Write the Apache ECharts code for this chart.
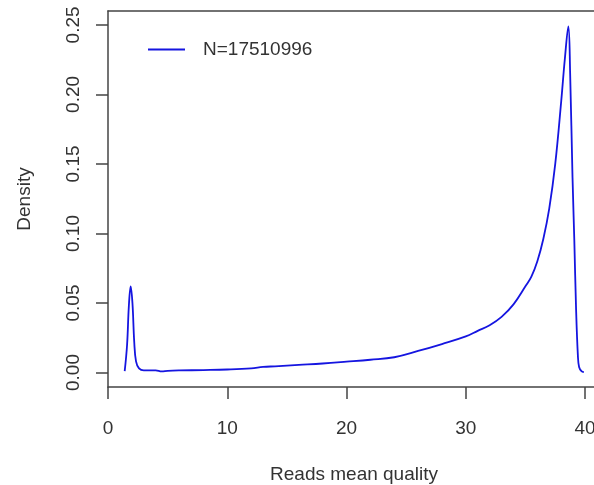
<!DOCTYPE html>
<html>
<head>
<meta charset="utf-8">
<script src="https://cdn.jsdelivr.net/npm/echarts@6/dist/echarts.min.js"></script>
<style>
  html, body { margin: 0; padding: 0; background: #fff; }
  #chart { width: 594px; height: 485px; }
</style>
</head>
<body>
<div id="chart"></div>
<script>
// density curve
const quality = [1.4, 1.6, 1.75, 1.9, 2.05, 2.2, 2.35, 2.6, 3.0, 4.0, 4.5, 5.0, 6.0, 8.0, 10.0, 12.0, 13.0, 14.0, 16.0, 18.0, 20.0, 22.0, 24.0, 26.0, 28.0, 30.0, 31.0, 32.0, 33.0, 34.0, 35.0, 35.5, 36.0, 36.5, 37.0, 37.5, 38.0, 38.3, 38.6, 38.75, 38.95, 39.1, 39.25, 39.4, 39.5, 39.7, 39.9]
const density = [0.001, 0.02, 0.048, 0.062, 0.05, 0.022, 0.008, 0.003, 0.0015, 0.0016, 0.0008, 0.0012, 0.0015, 0.0018, 0.0022, 0.003, 0.004, 0.0045, 0.0055, 0.0065, 0.0078, 0.0092, 0.011, 0.0155, 0.0205, 0.026, 0.03, 0.034, 0.04, 0.049, 0.062, 0.069, 0.08, 0.096, 0.118, 0.15, 0.195, 0.225, 0.249, 0.215, 0.14, 0.095, 0.045, 0.012, 0.004, 0.001, 0.0003]
const xTicks = [0, 10, 20, 30, 40]
const yTicks = [0, 0.05, 0.1, 0.15, 0.2, 0.25]
const seriesName = 'N=17510996'

const font = 'Liberation Sans, Arial, sans-serif'
const ink = '#333'
const frame = { color: '#444', width: 1.5 }

const myChart = echarts.init(document.getElementById('chart'))
myChart.setOption({
    animation: false,
    grid: {
        left: 108,
        right: 0,
        top: 11,
        bottom: 98,
        outerBoundsMode: 'none',
        containLabel: false,
    },
    legend: {
        left: 143,
        top: 35,
        itemWidth: 37,
        itemHeight: 14,
        icon: 'path://M0,6 L37,6 L37,8 L0,8 Z',
        textStyle: { fontFamily: font, fontSize: 19, color: ink, padding: [0, 0, 0, 13] },
        data: [seriesName],
    },
    xAxis: [
        {
            type: 'value',
            min: 0,
            max: 40.75,
            name: 'Reads mean quality',
            nameLocation: 'middle',
            nameGap: 78,
            nameTextStyle: { fontFamily: font, fontSize: 19, color: ink, padding: [0, 0, 0, 6] },
            splitLine: { show: false },
            axisLine: { show: true, onZero: false, lineStyle: frame },
            axisTick: { show: true, length: 12, customValues: xTicks, lineStyle: frame },
            axisLabel: { customValues: xTicks, margin: 32, fontFamily: font, fontSize: 19, color: ink },
        },
        {
            // top edge of the box
            type: 'value',
            position: 'top',
            min: 0,
            max: 40.75,
            splitLine: { show: false },
            axisLine: { show: true, onZero: false, lineStyle: frame },
            axisTick: { show: false },
            axisLabel: { show: false },
        },
    ],
    yAxis: {
        type: 'value',
        min: -0.0104,
        max: 0.26,
        name: 'Density',
        nameLocation: 'middle',
        nameGap: 74,
        nameRotate: 90,
        nameTextStyle: { fontFamily: font, fontSize: 19, color: ink },
        splitLine: { show: false },
        axisLine: { show: true, onZero: false, lineStyle: frame },
        axisTick: { show: true, length: 12, customValues: yTicks, lineStyle: frame },
        axisLabel: {
            customValues: yTicks,
            rotate: 90,
            margin: 25,
            fontFamily: font,
            fontSize: 19,
            color: ink,
            formatter: (v) => v.toFixed(2),
        },
    },
    series: [
        {
            name: seriesName,
            type: 'line',
            data: quality.map((q, i) => [q, density[i]]),
            smooth: 0.4,
            showSymbol: false,
            lineStyle: { color: '#1515e0', width: 1.8 },
            itemStyle: { color: '#1515e0' },
        },
    ],
})
</script>
</body>
</html>
